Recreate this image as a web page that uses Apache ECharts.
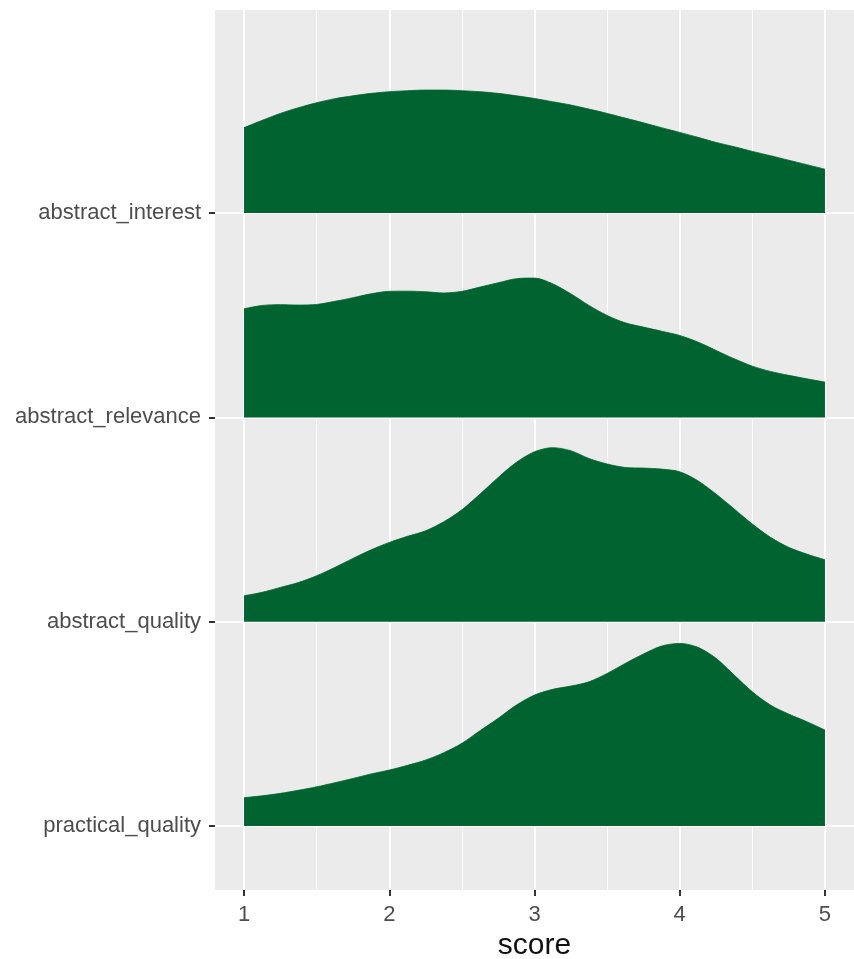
<!DOCTYPE html>
<html>
<head>
<meta charset="utf-8">
<title>score ridges</title>
<script src="https://cdn.jsdelivr.net/npm/echarts@6/dist/echarts.min.js"></script>
<style>
html,body{margin:0;padding:0;background:#fff;}
#main{width:854px;height:959px;}
</style>
</head>
<body>
<div id="main"></div>
<script>
// rows from bottom to top
var categories = ['practical_quality', 'abstract_quality', 'abstract_relevance', 'abstract_interest'];
var scoreX = [1, 1.125, 1.25, 1.375, 1.5, 1.625, 1.75, 1.875, 2, 2.125, 2.25, 2.375, 2.5, 2.625, 2.75, 2.875,
	3, 3.125, 3.25, 3.375, 3.5, 3.625, 3.75, 3.875, 4, 4.125, 4.25, 4.375, 4.5, 4.625, 4.75, 4.875, 5];
var xTicks = [1, 2, 3, 4, 5];
var xMinor = [1.5, 2.5, 3.5, 4.5];

// ridge heights (in row units)
var practicalQuality = [0.139, 0.148, 0.160, 0.175, 0.192, 0.212, 0.233, 0.255, 0.274, 0.297, 0.323, 0.359, 0.405, 0.467, 0.527, 0.592,
	0.641, 0.669, 0.685, 0.706, 0.747, 0.796, 0.842, 0.881, 0.894, 0.875, 0.821, 0.739, 0.657, 0.592, 0.548, 0.511, 0.470];
var abstractQuality = [0.127, 0.144, 0.168, 0.192, 0.225, 0.266, 0.310, 0.352, 0.388, 0.418, 0.445, 0.489, 0.548, 0.625, 0.706, 0.780,
	0.832, 0.852, 0.837, 0.799, 0.772, 0.755, 0.752, 0.747, 0.734, 0.690, 0.625, 0.552, 0.478, 0.413, 0.364, 0.331, 0.303];
var abstractRelevance = [0.532, 0.548, 0.552, 0.550, 0.553, 0.568, 0.586, 0.605, 0.617, 0.618, 0.615, 0.609, 0.617, 0.638, 0.659, 0.679,
	0.682, 0.654, 0.605, 0.548, 0.499, 0.463, 0.442, 0.422, 0.401, 0.369, 0.328, 0.287, 0.251, 0.225, 0.206, 0.189, 0.173];
var abstractInterest = [0.418, 0.454, 0.488, 0.516, 0.540, 0.560, 0.574, 0.586, 0.594, 0.599, 0.602, 0.602, 0.599, 0.594, 0.586, 0.574,
	0.561, 0.545, 0.529, 0.509, 0.488, 0.465, 0.442, 0.418, 0.395, 0.371, 0.346, 0.325, 0.302, 0.281, 0.259, 0.237, 0.215];

var fillColor = '#01632f';
var fontName = '"Liberation Sans", Arial, sans-serif';

function ridgeSeries(name, row, dens){
	var data = [];
	for(var i=0;i<scoreX.length;i++){
		data.push([scoreX[i], row + dens[i]]);
	}
	return {
		name: name,
		type: 'line',
		smooth: 0.3,
		showSymbol: false,
		silent: true,
		lineStyle: {width: 0.8, color: fillColor},
		areaStyle: {color: fillColor, opacity: 1, origin: row},
		data: data
	};
}

var dom = document.getElementById('main');
var myChart = echarts.init(dom);
var option = {
	animation: false,
	grid: {
		left: 215,
		right: 0,
		top: 10,
		bottom: 69,
		outerBoundsMode: 'none',
		containLabel: false,
		show: true,
		backgroundColor: '#ebebeb',
		borderWidth: 0
	},
	xAxis: [
		{
			type: 'value',
			min: 0.8,
			max: 5.2,
			name: 'score',
			nameLocation: 'middle',
			nameGap: 40,
			nameTextStyle: {fontSize: 30, color: '#111', fontFamily: fontName},
			axisLine: {show: false},
			axisTick: {show: true, customValues: xTicks, length: 6, lineStyle: {color: '#333', width: 2}},
			axisLabel: {customValues: xTicks, fontSize: 22, color: '#4d4d4d', margin: 14, fontFamily: fontName},
			splitLine: {show: true, lineStyle: {color: '#fff', width: 2}}
		},
		{
			type: 'value',
			min: 0.8,
			max: 5.2,
			position: 'bottom',
			axisLine: {show: false},
			axisTick: {show: false, customValues: xMinor},
			axisLabel: {show: false, customValues: xMinor},
			splitLine: {show: true, lineStyle: {color: '#fff', width: 1}}
		}
	],
	yAxis: {
		type: 'value',
		min: 0.687,
		max: 4.994,
		axisLine: {show: false},
		axisTick: {show: true, customValues: [1, 2, 3, 4], length: 6, lineStyle: {color: '#333', width: 2}},
		axisLabel: {
			customValues: [1, 2, 3, 4],
			fontSize: 22,
			color: '#4d4d4d',
			margin: 14,
			padding: [4, 0, 0, 0],
			fontFamily: fontName,
			formatter: function(v){ return categories[Math.round(v) - 1]; }
		},
		splitLine: {show: true, lineStyle: {color: '#fff', width: 2}}
	},
	series: [
		ridgeSeries(categories[0], 1, practicalQuality),
		ridgeSeries(categories[1], 2, abstractQuality),
		ridgeSeries(categories[2], 3, abstractRelevance),
		ridgeSeries(categories[3], 4, abstractInterest)
	]
};
myChart.setOption(option, true);
</script>
</body>
</html>
